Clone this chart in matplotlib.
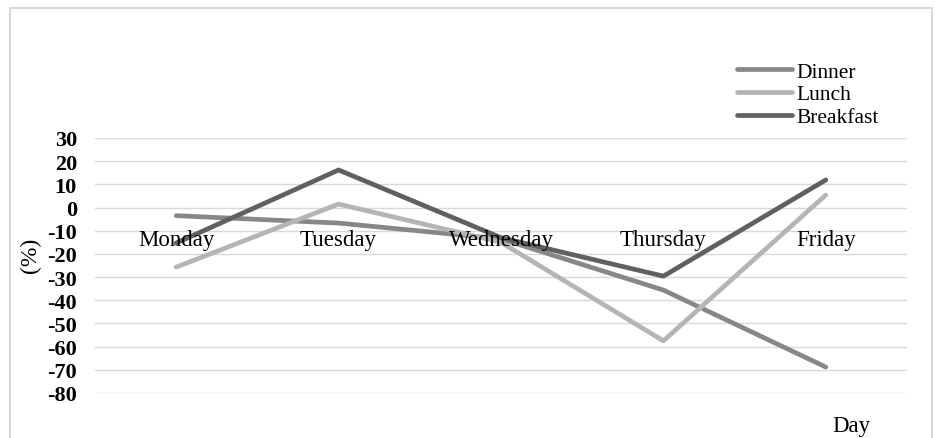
import numpy as np
import matplotlib.pyplot as plt
from matplotlib.patches import Rectangle

plt.rcParams['font.family'] = ['Liberation Serif', 'DejaVu Serif']

days = ["Monday", "Tuesday", "Wednesday", "Thursday", "Friday"]
dinner = [-3.5, -6.7, -13.5, -35.6, -68.8]
lunch = [-25.7, 1.5, -15.0, -57.5, 5.4]
breakfast = [-15.3, 16.2, -13.0, -29.6, 11.9]
yticks = [30, 20, 10, 0, -10, -20, -30, -40, -50, -60, -70, -80]

W, H = 935, 439
fig = plt.figure(figsize=(W / 100, H / 100), dpi=100)

# chart area border
fig.patches.append(Rectangle((10 / W, -0.05), (932 - 10) / W, (H - 9) / H + 0.05,
                             transform=fig.transFigure, fill=False,
                             edgecolor='#d9d9d9', linewidth=1.5))

ax = fig.add_axes([95 / W, (H - 394) / H, (907 - 95) / W, (394 - 139) / H])
x = np.arange(len(days))
ax.plot(x, dinner, color='#878787', lw=3.4, label='Dinner', solid_capstyle='round')
ax.plot(x, lunch, color='#b5b5b5', lw=3.4, label='Lunch', solid_capstyle='round')
ax.plot(x, breakfast, color='#606060', lw=3.4, label='Breakfast', solid_capstyle='round')

ax.set_xlim(-0.5, len(days) - 0.5)
ax.set_ylim(-80, 30)
ax.set_yticks(yticks)
ax.set_yticklabels([str(v) for v in yticks], fontweight='bold', fontsize=16)
ax.tick_params(axis='y', length=0, pad=13)
ax.set_xticks([])
ax.grid(axis='y', color='#d9d9d9', linewidth=1)
ax.set_axisbelow(True)
for s in ax.spines.values():
    s.set_visible(False)

for i, d in enumerate(days):
    ax.text(i, -14, d, ha='center', va='center', fontsize=16.5, zorder=5)

fig.text(30 / W, 1 - 255 / H, "(%)", rotation=90, ha='center', va='center', fontsize=17)
fig.text(851 / W, 1 - 427 / H, "Day", ha='center', va='center', fontsize=16.5)

ax.legend(loc='upper left', bbox_to_anchor=(726 / W, 1 - 52 / H),
          bbox_transform=fig.transFigure, frameon=False, fontsize=15.5,
          handlelength=2.55, handletextpad=0.2, labelspacing=0.12, borderpad=0)

fig.savefig('out.png', dpi=100)
